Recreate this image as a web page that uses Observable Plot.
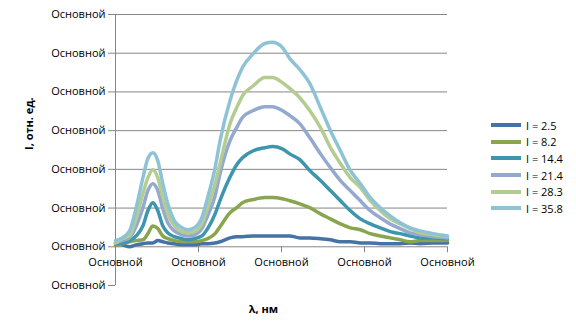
<!DOCTYPE html>
<html><head><meta charset="utf-8">
<script src="https://cdn.jsdelivr.net/npm/d3@7"></script>
<script src="https://cdn.jsdelivr.net/npm/@observablehq/plot@0.6"></script>
<style>
body{margin:0;background:#fff}
#wrap{position:relative;width:576px;height:336px;font-family:"Open Sans",sans-serif}
.legend{position:absolute;left:491px;top:117px;font-size:11px;color:#000}
.item{display:flex;align-items:center;height:16.6px;white-space:nowrap}
.sw{width:30px;height:4px;margin-right:5px}
</style></head>
<body><div id="wrap"></div>
<script>
const tickLabel = "Основной";
const xTicks = [0, 100, 200, 300, 400];
const yTicks = [-1, 0, 1, 2, 3, 4, 5, 6];
const gridY = [1, 2, 3, 4, 5, 6];
const seriesNames = ["I = 2.5", "I = 8.2", "I = 14.4", "I = 21.4", "I = 28.3", "I = 35.8"];
const colors = ["#4572a7", "#89a54e", "#3d96ae", "#93a9cf", "#b4cc91", "#8ec3d5"];
const lambda = [0,8,17,25,33,39,45,51,57,63,71,80,87,95,104,111,120,126,138,146,153,166,180,189,201,210,222,234,247,259,271,283,295,307,319,331,343,355,367,383,400];
const s25  = [0.08,0.05,0.00,0.05,0.08,0.10,0.10,0.16,0.13,0.10,0.08,0.05,0.05,0.05,0.08,0.08,0.10,0.13,0.23,0.26,0.26,0.28,0.28,0.28,0.28,0.28,0.23,0.23,0.21,0.18,0.13,0.13,0.10,0.10,0.08,0.08,0.08,0.10,0.08,0.10,0.10];
const s82  = [0.03,0.08,0.13,0.16,0.18,0.34,0.54,0.47,0.28,0.21,0.16,0.13,0.13,0.13,0.16,0.21,0.34,0.52,0.88,1.01,1.14,1.22,1.27,1.27,1.24,1.19,1.11,1.01,0.85,0.72,0.59,0.49,0.44,0.34,0.28,0.23,0.18,0.13,0.16,0.16,0.16];
const s144 = [0.08,0.10,0.16,0.28,0.54,0.93,1.14,0.93,0.54,0.36,0.26,0.21,0.18,0.21,0.28,0.47,0.85,1.20,1.80,2.12,2.30,2.48,2.56,2.59,2.53,2.40,2.25,1.97,1.71,1.45,1.19,0.93,0.72,0.59,0.49,0.39,0.34,0.28,0.23,0.23,0.21];
const s214 = [0.10,0.16,0.23,0.54,1.01,1.45,1.63,1.45,0.98,0.62,0.41,0.31,0.28,0.31,0.47,0.80,1.32,1.89,2.74,3.08,3.34,3.52,3.62,3.62,3.52,3.39,3.18,2.82,2.40,2.04,1.71,1.45,1.19,0.93,0.75,0.59,0.47,0.36,0.31,0.26,0.23];
const s283 = [0.10,0.21,0.28,0.75,1.37,1.78,1.99,1.78,1.27,0.85,0.54,0.39,0.36,0.39,0.59,1.01,1.63,2.15,3.18,3.59,3.90,4.16,4.37,4.37,4.24,4.09,3.85,3.52,3.08,2.56,2.15,1.78,1.53,1.19,0.93,0.72,0.59,0.47,0.36,0.31,0.26];
const s358 = [0.16,0.23,0.41,1.01,1.78,2.28,2.43,2.22,1.63,1.11,0.67,0.49,0.44,0.49,0.75,1.27,2.04,2.74,3.78,4.29,4.63,4.99,5.25,5.28,5.15,4.86,4.58,4.22,3.59,3.00,2.48,1.97,1.63,1.27,1.01,0.80,0.62,0.49,0.41,0.34,0.28];
const seriesValues = [s25, s82, s144, s214, s283, s358];

const rows = seriesValues.flatMap((vals, i) => vals.map((v, j) => ({series: seriesNames[i], x: lambda[j], y: v})));

const W = 576, H = 336, mL = 115, mR = 129, mT = 14, mB = 51;
const innerH = H - mT - mB;
const zeroOffset = -innerH / (yTicks[yTicks.length-1] - yTicks[0]) * (0 - yTicks[0]);

const chart = Plot.plot({
  width: W, height: H, marginLeft: mL, marginRight: mR, marginTop: mT, marginBottom: mB,
  style: {fontFamily: "'Open Sans', sans-serif", fontSize: "11px", color: "#000", background: "#fff", overflow: "visible"},
  x: {domain: [xTicks[0], xTicks[xTicks.length-1]], axis: null},
  y: {domain: [yTicks[0], yTicks[yTicks.length-1]], axis: null},
  color: {domain: seriesNames, range: colors},
  marks: [
    Plot.ruleY(gridY, {stroke: "#868686", strokeWidth: 1, strokeOpacity: 1}),
    Plot.ruleY([0], {stroke: "#868686", strokeOpacity: 1}),
    Plot.ruleX([xTicks[0]], {stroke: "#868686", strokeOpacity: 1}),
    Plot.axisY(yTicks, {anchor: "left", tickSize: 7, tickPadding: 3, tickFormat: () => tickLabel, stroke: "#868686", strokeOpacity: 1, fill: "#000", label: null}),
    Plot.axisX(xTicks, {anchor: "bottom", dy: zeroOffset, tickSize: 6, tickPadding: 5, tickFormat: () => tickLabel, stroke: "#868686", strokeOpacity: 1, fill: "#000", label: null}),
    Plot.line(rows, {x: "x", y: "y", z: "series", stroke: "series", strokeWidth: 3.5, curve: "monotone-x", strokeLinejoin: "round"}),
    Plot.text(["I, отн. ед."], {text: d => d, frameAnchor: "left", dx: -86, rotate: -90, fontWeight: "bold", fontSize: 11, fill: "#000"}),
    Plot.text(["λ, нм"], {text: d => d, frameAnchor: "bottom", dx: -18, dy: 24, lineAnchor: "middle", fontWeight: "bold", fontSize: 11, fill: "#000"})
  ]
});
const wrap = document.getElementById("wrap");
wrap.appendChild(chart);
const leg = document.createElement("div");
leg.className = "legend";
seriesNames.forEach((n, i) => {
  const it = document.createElement("div"); it.className = "item";
  const sw = document.createElement("span"); sw.className = "sw"; sw.style.background = colors[i];
  const t = document.createElement("span"); t.textContent = n;
  it.appendChild(sw); it.appendChild(t); leg.appendChild(it);
});
wrap.appendChild(leg);
</script></body></html>
